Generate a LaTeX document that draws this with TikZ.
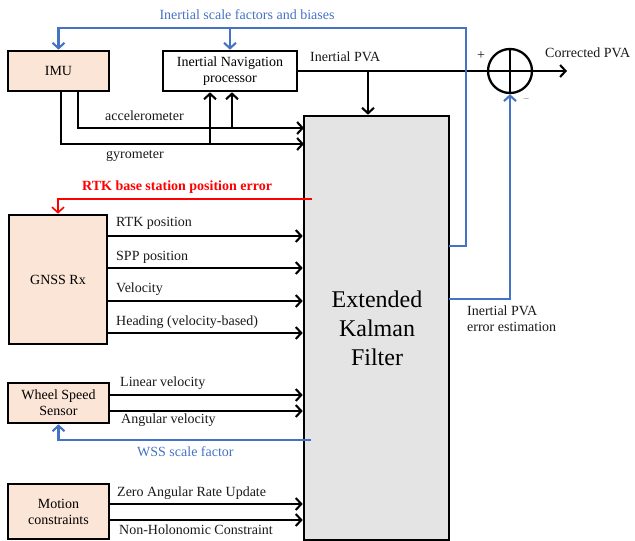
\documentclass[tikz,border=0pt]{standalone}
\usepackage{fontspec}
\setmainfont{Liberation Serif}
\usetikzlibrary{arrows.meta}
\definecolor{peach}{HTML}{FBE5D6}
\definecolor{ekfgray}{HTML}{E4E4E4}
\definecolor{fbblue}{HTML}{4472C4}
\definecolor{errred}{HTML}{FF0000}
\tikzset{
  box/.style={draw=black, line width=2.6pt, inner sep=0pt, font=\fontsize{14}{16}\selectfont, align=center},
  src/.style={box, fill=peach},
  lbl/.style={anchor=west, inner sep=0pt, font=\fontsize{14}{16}\selectfont, text=black!90},
  conn/.style={line width=2.1pt, -{Straight Barb[length=5.5pt,width=12pt,line width=2.1pt]}},
  plain/.style={line width=2.1pt},
  bluearr/.style={draw=fbblue, line width=2.1pt, -{Straight Barb[length=5.5pt,width=12pt,line width=2.1pt]}},
}
\begin{document}
\begin{tikzpicture}[x=1pt,y=-1pt]
\useasboundingbox (0,0) rectangle (635,541);
% boxes
\node[src, minimum width=101pt, minimum height=40pt] (imu) at (58.5,71) {IMU};
\node[box, fill=white, minimum width=134pt, minimum height=40pt] (ins) at (230,71) {Inertial Navigation\\processor};
\node[box, fill=ekfgray, minimum width=145pt, minimum height=424pt] (ekf) at (376.5,328) {};
\node[inner sep=0pt, align=center, font=\fontsize{24}{29}\selectfont] (ekft) at (377,328) {Extended\\Kalman\\Filter};
\node[src, minimum width=98pt, minimum height=129pt] (gnss) at (58,279.5) {GNSS Rx};
\node[src, minimum width=101pt, minimum height=40pt] (wss) at (58.5,403) {Wheel Speed\\Sensor};
\node[src, minimum width=101pt, minimum height=55pt] (mot) at (58.5,511.5) {Motion\\constraints};
\node[draw, circle, line width=2.3pt, minimum size=44pt, inner sep=0pt] (sum) at (510,71) {};
\draw[line width=2.3pt] (sum.north) -- (sum.south) (sum.west) -- (sum.east);

% Inertial PVA
\coordinate (pvadown) at (368,71);
\coordinate (outend) at (567,71);
\draw[plain] (ins.east) -- (sum.west);
\draw[conn] (pvadown) -- (pvadown |- ekf.north);
\draw[conn] (sum.east) -- (outend);
\node[lbl] (lpva) at (310,57) {Inertial PVA};
\node[lbl] (lcorr) at (545,53) {Corrected PVA};
\node[lbl] (lplus) at (477,56) {+};
\node[lbl, text=black!50] (lminus) at (523,101) {\fontsize{11}{12}\selectfont −};

% IMU outputs
\coordinate (acc0) at (78,91);
\coordinate (acc1) at (78,128);
\coordinate (acc2) at (304,128);
\coordinate (gyr0) at (61,91);
\coordinate (gyr1) at (61,144);
\coordinate (gyr2) at (304,144);
\coordinate (accb) at (232,128);
\coordinate (gyrb) at (210,144);
\draw[conn] (acc0) -- (acc1) -- (acc2);
\draw[conn] (gyr0) -- (gyr1) -- (gyr2);
\draw[conn] (accb) -- (accb |- ins.south);
\draw[conn] (gyrb) -- (gyrb |- ins.south);
\node[lbl] (lacc) at (105,116) {accelerometer};
\node[lbl] (lgyr) at (106,156) {gyrometer};

% Blue feedback top
\coordinate (fb0) at (449,246);
\coordinate (fb1) at (466,246);
\coordinate (fb2) at (466,28);
\coordinate (fb3) at (58.5,28);
\coordinate (fb4) at (230,28);
\draw[bluearr] (fb0) -- (fb1) -- (fb2) -- (fb3) -- (imu.north);
\draw[bluearr] (fb4) -- (ins.north);
\node[anchor=center, inner sep=0pt, font=\fontsize{14}{16}\selectfont, text=fbblue] (lisf) at (247,15) {Inertial scale factors and biases};

% error estimation
\coordinate (ee0) at (449,299);
\coordinate (ee1) at (510,299);
\draw[bluearr] (ee0) -- (ee1) -- (sum.south);
\node[lbl, align=left] (lee) at (467,319) {Inertial PVA\\error estimation};

% RTK base error
\coordinate (rb0) at (312,199);
\coordinate (rb1) at (58,199);
\draw[draw=errred, line width=1.6pt, -{Straight Barb[length=5.5pt,width=12pt,line width=1.6pt]}] (rb0) -- (rb1) -- (gnss.north);
\node[lbl, text=errred, font=\bfseries\fontsize{14}{16}\selectfont] (lrb) at (82,187) {RTK base station position error};

% GNSS outputs
\foreach \yy/\nm/\tx/\ly in {236/g1/RTK position/223, 268/g2/SPP position/257, 301/g3/Velocity/289, 333/g4/Heading (velocity-based)/322}{
  \coordinate (\nm) at (107,\yy);
  \draw[conn] (\nm) -- (\nm -| ekf.west);
  \node[lbl] (l\nm) at (116,\ly) {\tx};
}

% WSS outputs
\coordinate (w1) at (109,395);
\coordinate (w2) at (109,411);
\draw[conn] (w1) -- (w1 -| ekf.west);
\draw[conn] (w2) -- (w2 -| ekf.west);
\node[lbl] (lw1) at (120,383) {Linear velocity};
\node[lbl] (lw2) at (121,420) {Angular velocity};
\coordinate (ws0) at (311,440);
\coordinate (ws1) at (58.5,440);
\draw[bluearr] (ws0) -- (ws1) -- (wss.south);
\node[lbl, text=fbblue] (lws) at (137,452) {WSS scale factor};

% Motion constraints
\coordinate (m1) at (109,504);
\coordinate (m2) at (109,520);
\draw[conn] (m1) -- (m1 -| ekf.west);
\draw[conn] (m2) -- (m2 -| ekf.west);
\node[lbl] (lm1) at (117,493) {Zero Angular Rate Update};
\node[lbl] (lm2) at (119,530) {Non-Holonomic Constraint};
\end{tikzpicture}
\end{document}
